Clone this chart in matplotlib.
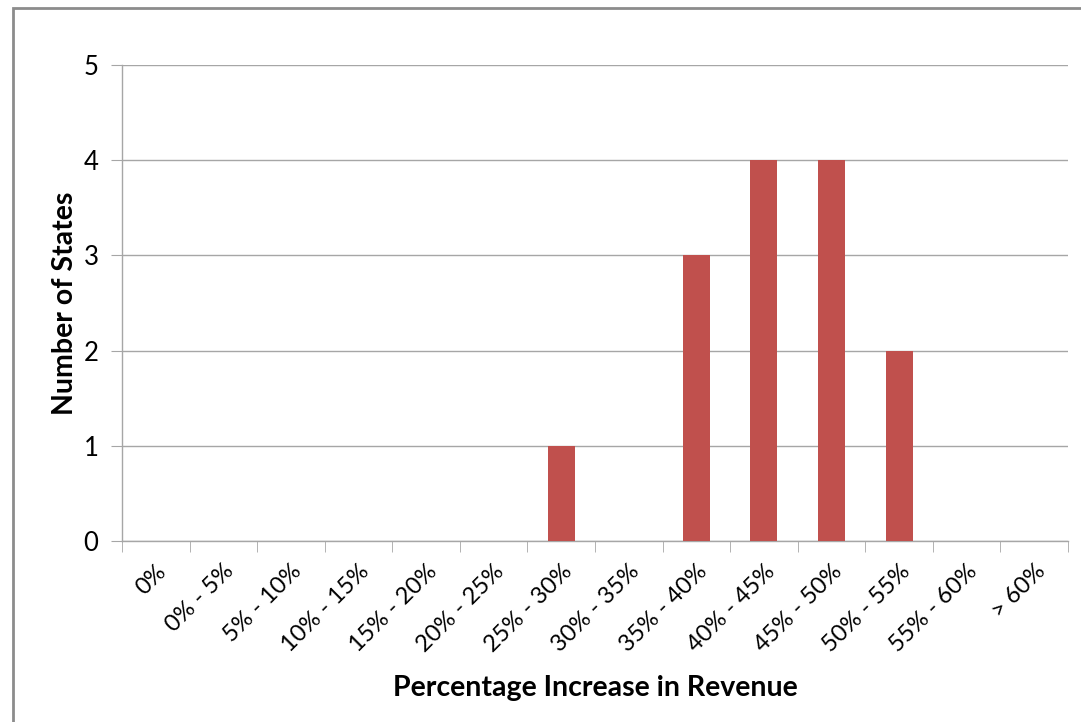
import numpy as np
import matplotlib.pyplot as plt
from matplotlib.patches import Rectangle

categories = ["0%", "0% - 5%", "5% - 10%", "10% - 15%", "15% - 20%", "20% - 25%",
              "25% - 30%", "30% - 35%", "35% - 40%", "40% - 45%", "45% - 50%",
              "50% - 55%", "55% - 60%", "> 60%"]
counts = [0, 0, 0, 0, 0, 0, 1, 0, 3, 4, 4, 2, 0, 0]
y_ticks = [0, 1, 2, 3, 4, 5]

plt.rcParams['font.family'] = ['Lato', 'DejaVu Sans']

W, H = 1081, 722
fig = plt.figure(figsize=(W / 100, H / 100), dpi=100)
ax = fig.add_axes([122 / W, 1 - 541 / H, (1068 - 122) / W, (541 - 65) / H])

# outer chart frame (only left and top edges fall inside the picture)
fig.patches.append(Rectangle((13 / W, -0.1), 1.2, 1 - 8 / H + 0.1, transform=fig.transFigure,
                             fill=False, edgecolor="#8c8c8c", linewidth=2))

grid_c = "#a6a6a6"
x = np.arange(len(categories))
ax.bar(x, counts, width=0.4, color="#c0504d", zorder=3)

ax.set_xlim(-0.5, len(categories) - 0.5)
ax.set_ylim(0, 5)
ax.set_yticks(y_ticks)
ax.yaxis.grid(True, color=grid_c, linewidth=1)
ax.set_axisbelow(True)

for s in ["top", "right"]:
    ax.spines[s].set_visible(False)
for s in ["left", "bottom"]:
    ax.spines[s].set_color(grid_c)
    ax.spines[s].set_linewidth(1)

ax.set_xticks(x)
ax.set_xticks(np.arange(len(categories) + 1) - 0.5, minor=True)
ax.tick_params(axis="x", which="major", length=0, pad=14)
ax.tick_params(axis="x", which="minor", length=8, color=grid_c)
ax.tick_params(axis="y", length=8, color=grid_c, labelsize=18.5, pad=9)
ax.set_xticklabels(categories, rotation=45, ha="right", va="top",
                   rotation_mode="anchor", fontsize=17)

ax.set_xlabel("Percentage Increase in Revenue", fontsize=20.5, fontweight="bold", labelpad=14)
ax.set_ylabel("Number of States", fontsize=20.5, fontweight="bold", labelpad=4)

fig.savefig("out.png", dpi=100)
